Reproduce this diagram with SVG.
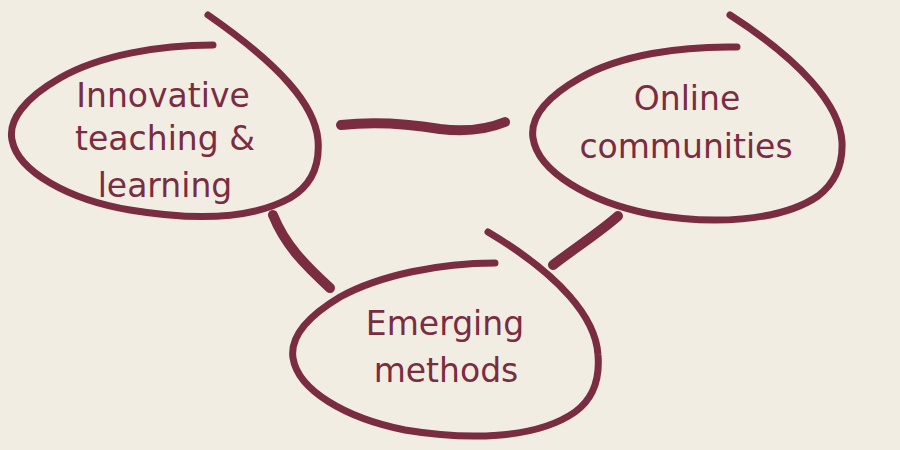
<svg xmlns="http://www.w3.org/2000/svg" width="900" height="450" viewBox="0 0 900 450">
<style>
.loop{fill:none;stroke:#7a2c41;stroke-width:7;stroke-linecap:round;stroke-linejoin:round}
.conn{fill:none;stroke:#7a2c41;stroke-width:10;stroke-linecap:round;stroke-linejoin:round}
.lbl{font-family:"DejaVu Sans","Liberation Sans",sans-serif;font-size:33px;fill:#7a2c41;text-anchor:middle}
</style>
<rect width="900" height="450" fill="#f2ede3"/>
<g id="connectors">
<path class="conn" d="M341,125 C375,121 410,124 440,129 C465,132 488,129 505,122"/>
<path class="conn" d="M273,215 C285,245 305,265 330,288" stroke-width="9"/>
<path class="conn" d="M618,216 C600,232 575,248 553,265" stroke-width="8"/>
</g>
<g id="node-innovative">
<path class="loop" d="M213,45 C160,45 100,55 60,78 C25,98 8,120 12,140 C18,172 70,200 130,210 C190,220 250,220 290,198 C312,185 320,165 318,140 C315,105 280,65 208,15"/>
<text class="lbl" x="163" y="107">Innovative</text>
<text class="lbl" x="165" y="150">teaching &amp;</text>
<text class="lbl" x="165" y="197">learning</text>
</g>
<g id="node-online">
<path class="loop" d="M737,47 C680,46 620,55 580,78 C545,98 530,118 533,138 C538,172 590,202 650,214 C710,225 780,222 818,196 C835,183 843,165 842,142 C840,105 800,60 730,15"/>
<text class="lbl" x="687" y="110">Online</text>
<text class="lbl" x="686" y="158">communities</text>
</g>
<g id="node-emerging">
<path class="loop" d="M495,263 C440,263 380,275 340,297 C305,318 290,338 293,358 C298,390 345,418 405,430 C465,440 535,440 575,412 C593,399 600,380 598,355 C596,318 560,275 488,232"/>
<text class="lbl" x="445" y="335">Emerging</text>
<text class="lbl" x="446" y="382">methods</text>
</g>
</svg>
